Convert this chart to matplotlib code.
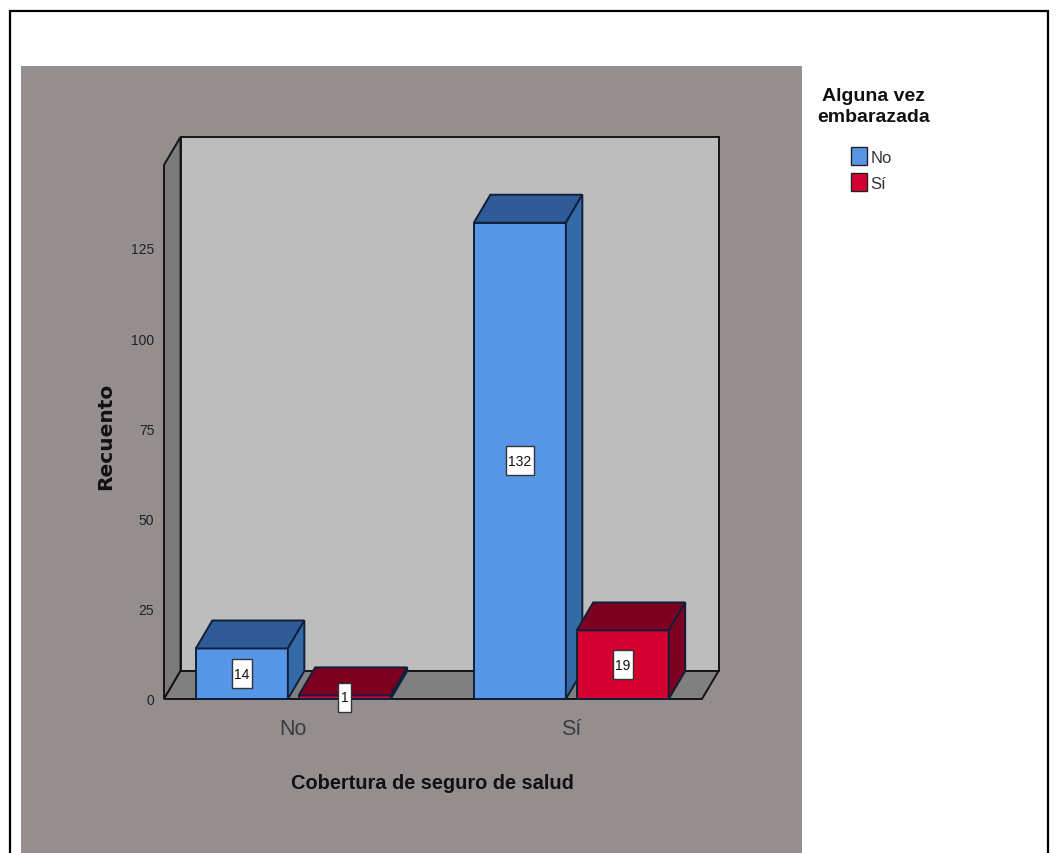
import matplotlib
matplotlib.use('Agg')
import matplotlib.pyplot as plt
from matplotlib.patches import Polygon, Rectangle, Patch

plt.rcParams['font.family'] = ['Liberation Sans', 'DejaVu Sans']

categories = ['No', 'Sí']
series_names = ['No', 'Sí']
counts_no = [14, 132]
counts_si = [1, 19]
yticks = [0, 25, 50, 75, 100, 125]

W, H = 1057, 854
front = ['#5596e6', '#d5002f']
top = ['#2f5c96', '#7d0020']
side = ['#346aa8', '#7d0020']
edge = '#10203a'

fig = plt.figure(figsize=(W / 100, H / 100), dpi=100, facecolor='white')

# page frame and grey panel
fig.add_artist(Rectangle((9.5 / W, -0.01), 1038 / W, 1 - 12 / H + 0.01, transform=fig.transFigure,
                         fc='white', ec='black', lw=1.6, zorder=-3))
fig.add_artist(Rectangle((21 / W, 0), 781 / W, 1 - 67 / H, transform=fig.transFigure,
                         fc='#948e8e', ec='none', zorder=-2))

ax = fig.add_axes([164 / W, 1 - 700 / H, 538 / W, 534 / H])
ax.patch.set_alpha(0)
x0, x1 = (164 - 293) / 278, (702 - 293) / 278
ymax = 148
ax.set_xlim(x0, x1)
ax.set_ylim(0, ymax)
dx, dy = 16.5 / 278, 28 / 3.608  # depth of the 3d look


def poly(pts, fc, z, ec='#151515', lw=1.4):
    ax.add_patch(Polygon(pts, closed=True, fc=fc, ec=ec, lw=lw, zorder=z, clip_on=False))


# walls and floor
poly([(x0 + dx, dy), (x1 + dx, dy), (x1 + dx, ymax + dy), (x0 + dx, ymax + dy)], '#bdbdbd', 1)
poly([(x0, 0), (x0 + dx, dy), (x0 + dx, ymax + dy), (x0, ymax)], '#7b7b7b', 1.5)
poly([(x0, 0), (x1, 0), (x1 + dx, dy), (x0 + dx, dy)], '#808080', 2)

bar_w = 92 / 278
offsets = [-0.184, 0.186]
box_h = 29 / 3.608
for s, vals in enumerate([counts_no, counts_si]):
    for c, v in enumerate(vals):
        l = c + offsets[s] - bar_w / 2
        r = l + bar_w
        z = 3 + c + s * 0.1
        poly([(l, 0), (r, 0), (r, v), (l, v)], front[s], z, ec=edge)
        poly([(l, v), (r, v), (r + dx, v + dy), (l + dx, v + dy)], top[s], z, ec=edge)
        poly([(r, 0), (r + dx, dy), (r + dx, v + dy), (r, v)], side[s], z, ec=edge)
        # value label in a narrow tall white box
        box_w = (5 + 7.5 * len(str(v))) / 278
        xm = (l + r) / 2
        ax.add_patch(Rectangle((xm - box_w / 2, v / 2 - box_h / 2), box_w, box_h, fc='white', ec='#333333',
                               lw=1, zorder=8, clip_on=False))
        ax.text(xm, v / 2, str(v), ha='center', va='center', fontsize=10, color='#111111', zorder=9)

ax.set_xticks(range(len(categories)), categories)
ax.set_yticks(yticks)
ax.tick_params(length=0)
ax.tick_params(axis='x', labelsize=15.5, labelcolor='#3c3c3c', pad=14)
ax.tick_params(axis='y', labelsize=10, labelcolor='#222222', pad=7)
for sp in ax.spines.values():
    sp.set_visible(False)

fig.text(432.5 / W, 1 - 784 / H, 'Cobertura de seguro de salud', ha='center', va='center',
         fontsize=14.4, fontweight='bold', color='#111111')
fig.text(106 / W, 1 - 436 / H, 'Recuento', rotation=90, ha='center', va='center',
         fontsize=14.5, fontweight='bold', color='#111111', family='DejaVu Sans')
fig.text(874 / W, 1 - 107 / H, 'Alguna vez\nembarazada', ha='center', va='center',
         fontsize=14, fontweight='bold', color='#111111', linespacing=1.25)

handles = [Patch(fc=front[i], ec='#222222', label=series_names[i]) for i in range(2)]
fig.legend(handles=handles, loc='upper left', bbox_to_anchor=(848 / W, 1 - 145 / H), frameon=False,
           fontsize=12, handlelength=0.95, handleheight=1.25, handletextpad=0.2, labelspacing=0.5,
           labelcolor='#333333', borderpad=0.2, borderaxespad=0)

fig.savefig('out.png', dpi=100)
